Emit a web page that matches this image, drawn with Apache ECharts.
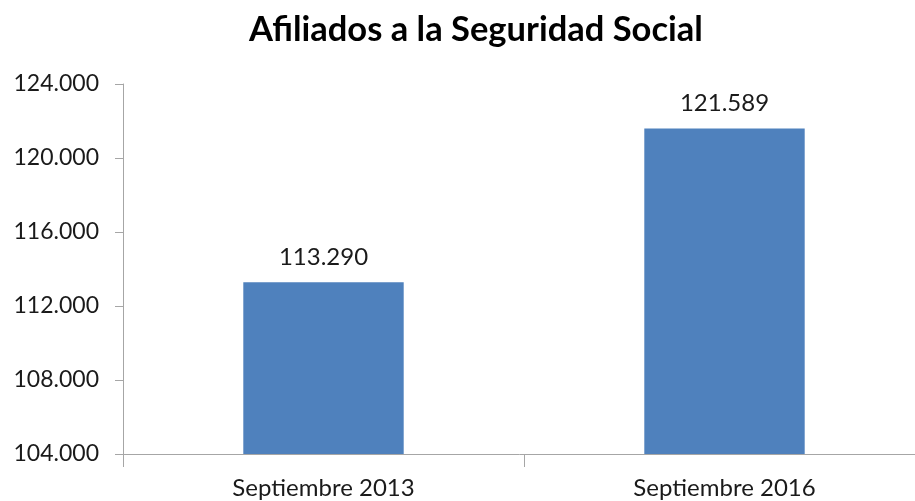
<!DOCTYPE html>
<html>
<head>
<meta charset="utf-8">
<script src="https://cdn.jsdelivr.net/npm/echarts@6/dist/echarts.min.js"></script>
<style>
  html, body { margin: 0; padding: 0; background: #fff; }
  #chart { width: 915px; height: 501px; }
</style>
</head>
<body>
<div id="chart"></div>
<script>
// datos del grafico
var categorias = ['Septiembre 2013', 'Septiembre 2016'];
var afiliados = [113290, 121589];
var yMin = 104000, yMax = 124000, yPaso = 4000;

function miles(v) {
    return String(v).replace(/\B(?=(\d{3})+(?!\d))/g, '.');
}

var myChart = echarts.init(document.getElementById('chart'));
var option = {
    animation: false,
    title: {
        text: 'Afiliados a la Seguridad Social',
        left: 244,
        top: 7,
        textStyle: {
            fontFamily: 'Lato',
            fontSize: 34.5,
            fontWeight: 'bold',
            color: '#000'
        }
    },
    grid: {
        left: 123,
        right: -10,
        top: 84,
        bottom: 47,
        outerBoundsMode: 'none'
    },
    xAxis: {
        type: 'category',
        data: categorias,
        axisLine: { lineStyle: { color: '#A6A6A6', width: 1 } },
        axisTick: { show: true, length: 13, lineStyle: { color: '#A6A6A6' } },
        axisLabel: {
            fontFamily: 'Lato',
            fontSize: 24,
            color: '#1a1a1a',
            margin: 22
        }
    },
    yAxis: {
        type: 'value',
        min: yMin,
        max: yMax,
        interval: yPaso,
        axisLine: { show: true, lineStyle: { color: '#A6A6A6', width: 1 } },
        axisTick: { show: true, length: 8, lineStyle: { color: '#A6A6A6' } },
        splitLine: { show: false },
        axisLabel: {
            fontFamily: 'Lato',
            fontSize: 23,
            color: '#1a1a1a',
            margin: 24,
            formatter: function (v) { return miles(v); }
        }
    },
    series: [{
        type: 'bar',
        data: afiliados,
        barWidth: '40%',
        itemStyle: { color: '#4F81BD' },
        label: {
            show: true,
            position: 'top',
            distance: 13,
            fontFamily: 'Lato',
            fontSize: 24,
            color: '#1a1a1a',
            formatter: function (p) { return miles(p.value); }
        }
    }]
};
myChart.setOption(option);
</script>
</body>
</html>
